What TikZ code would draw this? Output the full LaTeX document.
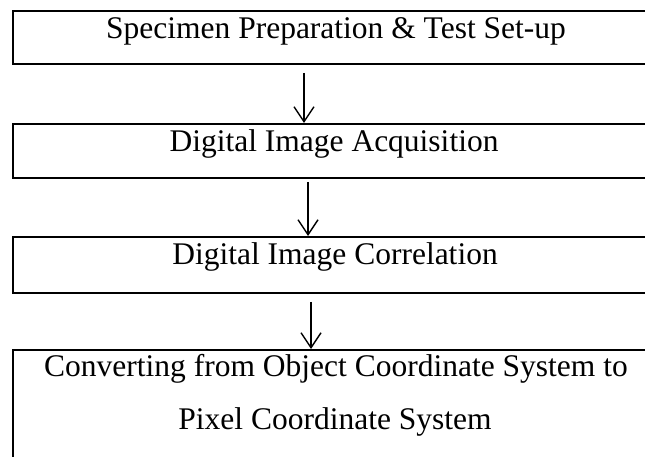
\documentclass[tikz,border=0pt]{standalone}
\usepackage{fontspec}
\setmainfont{Liberation Serif}
\usetikzlibrary{arrows.meta}
\begin{document}
\begin{tikzpicture}[x=1pt,y=1pt,
  boxstyle/.style={draw=black,line width=1.8pt,rectangle,anchor=north west,inner sep=0pt,minimum width=646pt},
  lbl/.style={anchor=base,inner sep=0pt,font=\fontsize{31.5}{37}\selectfont},
  arr/.style={line width=1.4pt,-{Straight Barb[length=15pt,width=20pt,line width=1.4pt]}}]
\clip (0,0) rectangle (645,457);
\fill[white] (0,0) rectangle (645,457);
% boxes (top-left corners; y = 457 - pixel y)
\node[boxstyle,minimum height=53pt] (b1) at (12,447) {};
\node[boxstyle,minimum height=54pt] (b2) at (12,334) {};
\node[boxstyle,minimum height=56pt] (b3) at (12,221) {};
\node[boxstyle,minimum height=140pt] (b4) at (12,108) {};
% texts
\node[lbl] (t1) at (336,418) {Specimen Preparation \& Test Set-up};
\node[lbl] (t2) at (334,305) {Digital Image Acquisition};
\node[lbl] (t3) at (335,192) {Digital Image Correlation};
\node[lbl] (t4a) at (336,80) {Converting from Object Coordinate System to};
\node[lbl] (t4b) at (335,27) {Pixel Coordinate System};
% arrows
\coordinate (s1) at (304,384);
\coordinate (s2) at (308,275);
\coordinate (s3) at (311,155);
\draw[arr] (s1) -- (s1 |- b2.north);
\draw[arr] (s2) -- (s2 |- b3.north);
\draw[arr] (s3) -- (s3 |- b4.north);
\end{tikzpicture}
\end{document}
